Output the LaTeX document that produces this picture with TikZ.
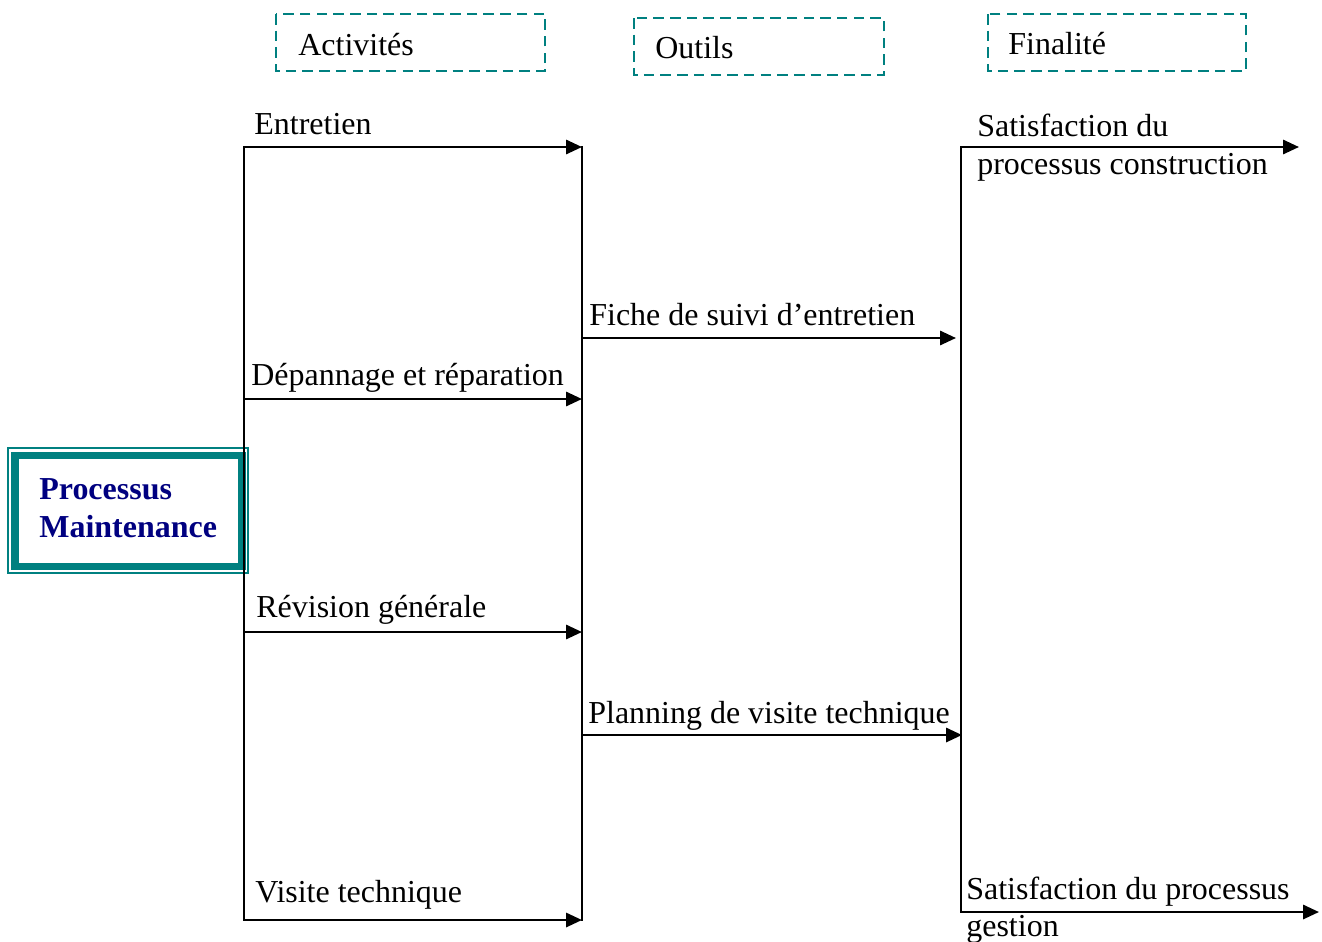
\documentclass[tikz,border=0pt]{standalone}
\usepackage{fontspec}
\setmainfont{Liberation Serif}
\usetikzlibrary{arrows.meta}
\definecolor{tealline}{HTML}{008080}
\definecolor{navytext}{HTML}{000080}
\begin{document}
\begin{tikzpicture}[x=0.02cm,y=-0.02cm,
  lbl/.style={anchor=base west,inner sep=0pt,font=\fontsize{18.2}{21.5}\selectfont},
  title/.style={lbl,font=\fontsize{18.2}{21.5}\selectfont\bfseries,text=navytext},
  flow/.style={line width=1.4pt,-{Triangle[length=9pt,width=8pt]}},
  rail/.style={line width=1.4pt,line cap=rect},
  headbox/.style={draw=tealline,line width=1.3pt,dash pattern=on 6pt off 3.5pt}]
\useasboundingbox (0,0) rectangle (1322,941);

% column headings
\draw[headbox] (276,14) rectangle (545,71);
\node[lbl] (hact) at (298,55) {Activités};
\draw[headbox] (634,18) rectangle (884,75);
\node[lbl] (hout) at (655,58) {Outils};
\draw[headbox] (988,14) rectangle (1246,71);
\node[lbl] (hfin) at (1008,54) {Finalité};

% process box
\draw[tealline,line width=0.9pt] (8,448) rectangle (248,573);
\draw[tealline,line width=4pt] (15,455.5) rectangle (242,566.5);
\node[title] (p1) at (39,499) {Processus};
\node[title] (p2) at (39,537) {Maintenance};

% anchor points of the flows
\coordinate (a1s) at (244,147);  \coordinate (a1e) at (582,147);
\coordinate (a2s) at (244,399);  \coordinate (a2e) at (582,399);
\coordinate (a3s) at (244,632);  \coordinate (a3e) at (582,632);
\coordinate (a4s) at (244,920);  \coordinate (a4e) at (582,920);
\coordinate (o1s) at (582,338);  \coordinate (o1e) at (956,338);
\coordinate (o2s) at (582,735);  \coordinate (o2e) at (962,735);
\coordinate (f1s) at (961,147);  \coordinate (f1e) at (1299,147);
\coordinate (f2s) at (961,912);  \coordinate (f2e) at (1319,912);

% vertical rails
\draw[rail] (a1s) -- (a4s);
\draw[rail] (a1e) -- (a4e);
\draw[rail] (f1s) -- (f2s);

% activities
\draw[flow] (a1s) -- (a1e);
\node[lbl] (t1) at (254,134) {Entretien};
\draw[flow] (a2s) -- (a2e);
\node[lbl] (t2) at (251,385) {Dépannage et réparation};
\draw[flow] (a3s) -- (a3e);
\node[lbl] (t3) at (256,617) {Révision générale};
\draw[flow] (a4s) -- (a4e);
\node[lbl] (t4) at (255,902) {Visite technique};

% tools
\draw[flow] (o1s) -- (o1e);
\node[lbl] (u1) at (589,325) {Fiche de suivi d’entretien};
\draw[flow] (o2s) -- (o2e);
\node[lbl] (u2) at (588,723) {Planning de visite technique};

% outcomes
\draw[flow] (f1s) -- (f1e);
\node[lbl] (s1) at (977,136) {Satisfaction du};
\node[lbl] (s1b) at (977,174) {processus construction};
\draw[flow] (f2s) -- (f2e);
\node[lbl] (s2) at (966,899) {Satisfaction du processus};
\node[lbl] (s2b) at (966,936) {gestion};
\end{tikzpicture}
\end{document}
